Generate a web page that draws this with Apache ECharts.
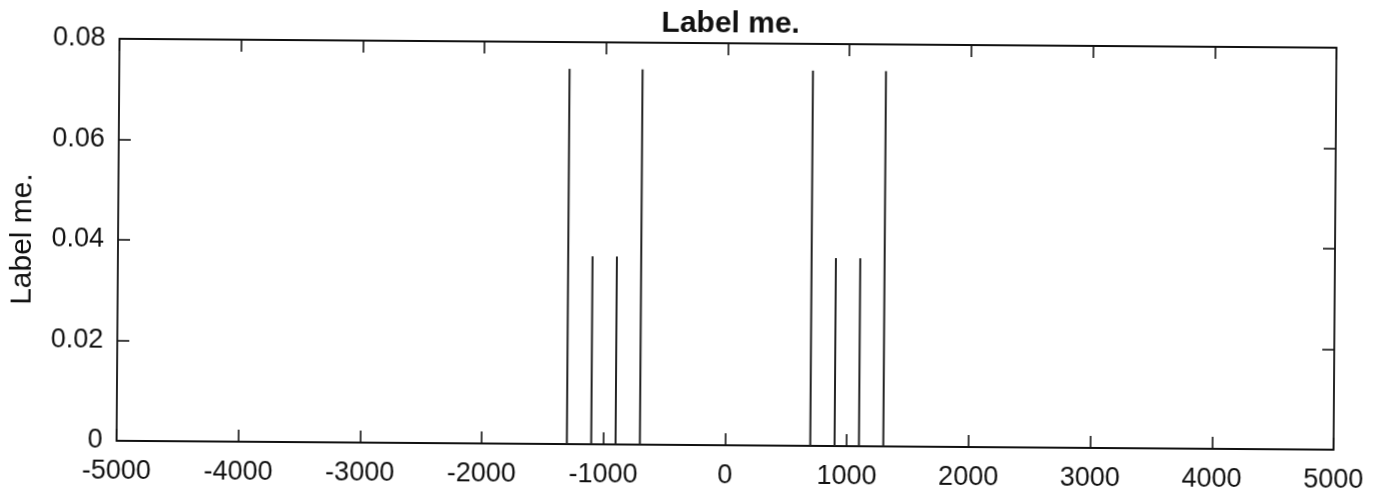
<!DOCTYPE html>
<html>
<head>
<meta charset="utf-8">
<script src="https://cdn.jsdelivr.net/npm/echarts@6/dist/echarts.min.js"></script>
<style>
html,body{margin:0;padding:0;background:#fff;overflow:hidden;}
#chart{width:1384px;height:496px;transform:rotate(0.42deg);transform-origin:50% 50%;}
</style>
</head>
<body>
<div id="chart"></div>
<script>
const titleText = 'Label me.';
const yName = 'Label me.';
const spikeX = [-1300, -1100, -900, -700, 700, 900, 1100, 1300];
const spikeY = [0.0747, 0.0374, 0.0374, 0.0747, 0.0747, 0.0374, 0.0374, 0.0747];
const xRange = [-5000, 5000, 1000];
const yRange = [0, 0.08, 0.02];

const font = "'Liberation Sans', Arial, Helvetica, sans-serif";
const ink = '#111';
const chart = echarts.init(document.getElementById('chart'), null, {renderer: 'canvas'});

const axisLine = {show: true, onZero: false, lineStyle: {color: ink, width: 1.8}};
const tickIn = {show: true, inside: true, length: 12, lineStyle: {color: ink, width: 1.6}};

chart.setOption({
  animation: false,
  backgroundColor: '#fff',
  title: {
    text: titleText,
    left: 724,
    textAlign: 'center',
    top: 4,
    textStyle: {fontFamily: font, fontSize: 30, fontWeight: 'bold', color: ink}
  },
  grid: {left: 113, right: 49, top: 43, bottom: 51, containLabel: false},
  xAxis: [{
    type: 'value', position: 'bottom',
    min: xRange[0], max: xRange[1], interval: xRange[2],
    axisLine: axisLine, axisTick: tickIn,
    axisLabel: {color: ink, fontFamily: font, fontSize: 27, margin: 17,
      formatter: v => String(v)},
    splitLine: {show: false}
  }, {
    type: 'value', position: 'top',
    min: xRange[0], max: xRange[1], interval: xRange[2],
    axisLine: axisLine, axisTick: tickIn,
    axisLabel: {show: false}, splitLine: {show: false}
  }],
  yAxis: [{
    type: 'value', position: 'left',
    min: yRange[0], max: yRange[1], interval: yRange[2],
    name: yName, nameLocation: 'middle', nameGap: 80,
    nameTextStyle: {color: ink, fontFamily: font, fontSize: 30},
    axisLine: axisLine, axisTick: tickIn,
    axisLabel: {color: ink, fontFamily: font, fontSize: 27, margin: 14},
    splitLine: {show: false}
  }, {
    type: 'value', position: 'right',
    min: yRange[0], max: yRange[1], interval: yRange[2],
    axisLine: axisLine, axisTick: tickIn,
    axisLabel: {show: false}, splitLine: {show: false}
  }],
  series: [{
    type: 'bar',
    xAxisIndex: 0, yAxisIndex: 0,
    barWidth: 2,
    itemStyle: {color: '#222'},
    data: spikeX.map((x, i) => [x, spikeY[i]])
  }]
});
</script>
</body>
</html>
